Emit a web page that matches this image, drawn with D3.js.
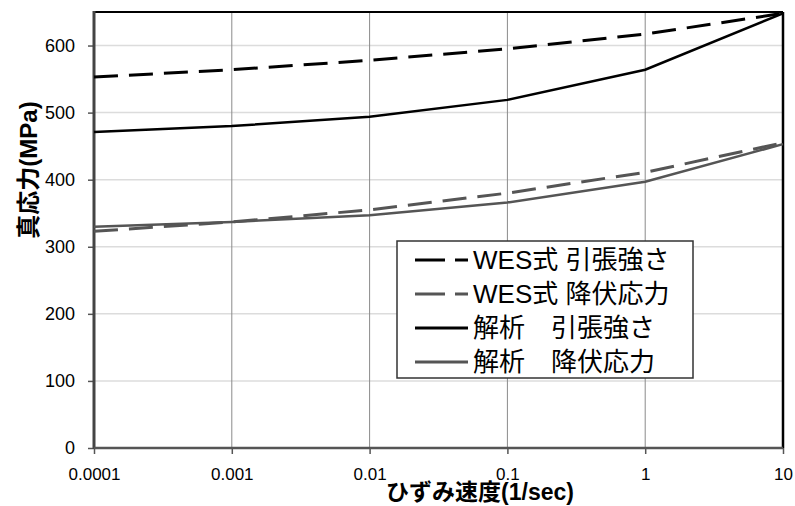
<!DOCTYPE html>
<html>
<head>
<meta charset="utf-8">
<script src="https://cdn.jsdelivr.net/npm/d3@7/dist/d3.min.js"></script>
<style>
  body { margin: 0; background: #fff; }
  svg { display: block; font-family: "Liberation Sans", "Noto Sans CJK JP", sans-serif; }
</style>
</head>
<body>
<svg></svg>
<script>
  const width = 795;
  const height = 506;

  // data
  const rates = [0.0001, 0.001, 0.01, 0.1, 1, 10];
  const rateLabels = ['0.0001', '0.001', '0.01', '0.1', '1', '10'];
  const wesTensile = [553, 564, 578, 595, 617, 648];
  const wesYield = [323, 337, 355, 380, 411, 455];
  const anaTensile = [471, 480, 494, 519, 564, 648];
  const anaYield = [330, 337, 347, 366, 397, 453];
  const yTicks = [0, 100, 200, 300, 400, 500, 600];
  const seriesNames = ['WES式 引張強さ', 'WES式 降伏応力', '解析\u3000引張強さ', '解析\u3000降伏応力'];

  const series = [
    {name: seriesNames[0], values: wesTensile, color: '#000', dash: '24,11', w: 3},
    {name: seriesNames[1], values: wesYield, color: '#555', dash: '24,11', w: 3},
    {name: seriesNames[2], values: anaTensile, color: '#000', dash: null, w: 2.5},
    {name: seriesNames[3], values: anaYield, color: '#555', dash: null, w: 2.5}
  ];

  const m = {left: 94, right: 783, top: 12, bottom: 448};
  const svg = d3.select('svg').attr('width', width).attr('height', height);

  const x = d3.scaleLog().domain([0.0001, 10]).range([m.left, m.right]);
  const y = d3.scaleLinear().domain([0, 650]).range([m.bottom, m.top]);

  // horizontal grid
  svg.append('g').selectAll('line').data(yTicks.filter(d => d > 0))
    .enter().append('line')
      .attr('x1', m.left).attr('x2', m.right)
      .attr('y1', d => y(d)).attr('y2', d => y(d))
      .attr('stroke', '#dcdcdc').attr('stroke-width', 1.5);

  // vertical grid
  svg.append('g').selectAll('line').data(rates.slice(1, -1))
    .enter().append('line')
      .attr('x1', d => x(d)).attr('x2', d => x(d))
      .attr('y1', m.top).attr('y2', m.bottom)
      .attr('stroke', '#8a8a8a').attr('stroke-width', 1);

  // frame top / right
  svg.append('line').attr('x1', m.left).attr('x2', m.right).attr('y1', m.top).attr('y2', m.top)
    .attr('stroke', '#000').attr('stroke-width', 2);
  svg.append('line').attr('x1', m.right).attr('x2', m.right).attr('y1', m.top).attr('y2', m.bottom)
    .attr('stroke', '#000').attr('stroke-width', 2.5);

  // y axis
  const yAxis = svg.append('g')
    .attr('transform', 'translate(' + m.left + ',0)')
    .call(d3.axisLeft(y).tickValues(yTicks).tickSize(6).tickPadding(13).tickFormat(d3.format('d')));
  yAxis.select('.domain').remove();
  yAxis.selectAll('.tick line').attr('stroke', '#555').attr('stroke-width', 1.5);
  yAxis.selectAll('text').attr('font-size', 18).attr('fill', '#000')
    .attr('font-family', '"Liberation Sans", sans-serif');

  // x axis
  const xAxis = svg.append('g')
    .attr('transform', 'translate(0,' + m.bottom + ')')
    .call(d3.axisBottom(x).tickValues(rates).tickSize(6).tickPadding(14)
      .tickFormat((d, i) => rateLabels[i]));
  xAxis.select('.domain').remove();
  xAxis.selectAll('.tick line').attr('stroke', '#555').attr('stroke-width', 1.5);
  xAxis.selectAll('text').attr('font-size', 17).attr('fill', '#000')
    .attr('font-family', '"Liberation Sans Narrow", "Liberation Sans", sans-serif');

  svg.append('line').attr('x1', m.left).attr('x2', m.left).attr('y1', m.top - 1).attr('y2', m.bottom + 1)
    .attr('stroke', '#444').attr('stroke-width', 3);
  svg.append('line').attr('x1', m.left).attr('x2', m.right).attr('y1', m.bottom).attr('y2', m.bottom)
    .attr('stroke', '#555').attr('stroke-width', 2.5);

  // lines
  const line = d3.line().x((d, i) => x(rates[i])).y(d => y(d));
  svg.append('g').selectAll('path').data(series.slice().reverse())
    .enter().append('path')
      .attr('d', d => line(d.values))
      .attr('fill', 'none')
      .attr('stroke', d => d.color)
      .attr('stroke-width', d => d.w)
      .attr('stroke-dasharray', d => d.dash);

  // legend
  const lg = svg.append('g').attr('transform', 'translate(397,241)');
  lg.append('rect').attr('width', 296).attr('height', 137)
    .attr('fill', '#fff').attr('stroke', '#333').attr('stroke-width', 1.5);
  const items = lg.selectAll('g.item').data(series).enter().append('g')
    .attr('class', 'item')
    .attr('transform', (d, i) => 'translate(0,' + (19 + i * 34) + ')');
  items.append('line').attr('x1', 18).attr('x2', 71).attr('y1', 0).attr('y2', 0)
    .attr('stroke', d => d.color).attr('stroke-width', 3)
    .attr('stroke-dasharray', d => d.dash ? '30,10' : null);
  items.append('text').attr('x', 76).attr('y', 0).attr('dy', '0.36em')
    .attr('font-size', 26).attr('fill', '#000')
    .text(d => d.name);

  // axis titles
  svg.append('text')
    .attr('transform', 'translate(37,170) rotate(-90)')
    .attr('text-anchor', 'middle')
    .attr('font-size', 24).attr('font-weight', 'bold')
    .text('真応力(MPa)');
  svg.append('text')
    .attr('x', 480).attr('y', 500)
    .attr('text-anchor', 'middle')
    .attr('font-size', 23).attr('font-weight', 'bold')
    .text('ひずみ速度(1/sec)');
</script>
</body>
</html>
